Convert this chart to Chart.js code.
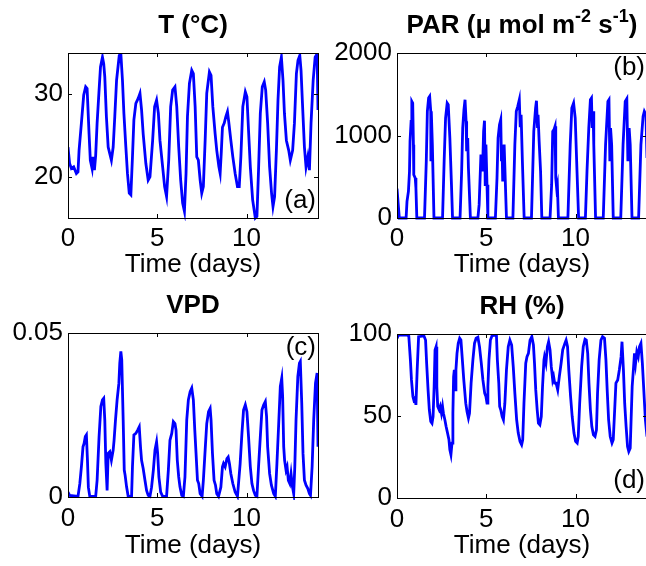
<!DOCTYPE html>
<html>
<head>
<meta charset="utf-8">
<title>Greenhouse climate, 14 days</title>
<script src="https://cdn.jsdelivr.net/npm/chart.js@4.4.0/dist/chart.umd.min.js"></script>
<style>
html,body{margin:0;padding:0;background:#fff;width:646px;height:566px;overflow:hidden;position:relative}
canvas{position:absolute}
</style>
</head>
<body>
<canvas id="cT" width="323" height="283" style="left:0;top:0"></canvas>
<canvas id="cPAR" width="330" height="283" style="left:323px;top:0"></canvas>
<canvas id="cVPD" width="323" height="283" style="left:0;top:283px"></canvas>
<canvas id="cRH" width="330" height="283" style="left:323px;top:283px"></canvas>
<script>
// ticks shared by all panels
const dayTicks=[0,5,10];
const tempTicks=[20,30];
const parTicks=[0,1000,2000];
const vpdTicks=[0,0.05];
const rhTicks=[0,50,100];

// air temperature, deg C
const tempDays=[0,0.09,0.19,0.32,0.47,0.56,0.62,0.75,0.88,0.99,
  1.07,1.18,1.25,1.35,1.40,1.48,1.55,1.63,1.74,1.82,
  1.93,2.00,2.06,2.15,2.25,2.34,2.43,2.53,2.62,2.72,
  2.87,2.96,3.05,3.13,3.24,3.33,3.43,3.52,3.61,3.69,
  3.80,3.93,4.03,4.12,4.21,4.36,4.49,4.59,4.74,4.85,
  4.96,5.06,5.15,5.30,5.41,5.52,5.64,5.75,5.86,5.99,
  6.09,6.20,6.31,6.42,6.52,6.61,6.69,6.80,6.93,7.02,
  7.12,7.21,7.30,7.40,7.49,7.58,7.68,7.77,7.92,8.01,
  8.11,8.24,8.33,8.45,8.52,8.58,8.65,8.75,8.84,8.93,
  9.01,9.12,9.23,9.36,9.49,9.59,9.68,9.79,9.93,10.02,
  10.11,10.21,10.34,10.49,10.58,10.67,10.77,10.88,10.99,11.07,
  11.18,11.29,11.40,11.48,11.57,11.67,11.76,11.85,11.95,12.04,
  12.12,12.23,12.36,12.45,12.58,12.68,12.79,12.88,12.98,13.05,
  13.13,13.24,13.33,13.43,13.52,13.61,13.73,13.84,13.95,14.00];
const tempValues=[23.6,21.6,21.0,21.2,20.4,20.6,23.2,26.5,29.9,30.9,
  30.7,25.2,22.0,21.0,22.4,20.8,22.6,26.5,30.5,33.3,
  34.5,33.7,32.1,27.3,23.6,22.8,22.0,23.6,27.3,31.7,
  34.7,34.9,31.7,27.7,23.6,20.4,18.0,17.8,22.4,26.9,
  28.9,29.5,30.1,28.1,25.2,21.6,19.6,20.0,24.4,28.5,
  29.3,27.7,24.4,21.2,18.8,17.6,22.0,28.5,30.5,30.9,
  28.5,23.6,19.6,16.8,15.8,20.4,27.3,31.3,32.9,32.5,
  28.5,22.4,22.0,19.6,18.0,18.8,24.4,30.1,32.7,32.3,
  28.5,25.2,23.2,21.2,20.4,22.8,26.0,26.5,27.3,27.9,
  26.5,24.4,22.4,20.4,18.8,18.8,22.4,28.5,30.3,29.7,
  25.6,21.2,17.2,15.0,15.2,20.8,27.7,30.9,31.5,30.5,
  26.5,21.2,18.0,16.4,17.6,23.2,29.3,33.3,34.5,31.7,
  27.7,24.4,23.2,22.0,23.2,26.5,32.5,34.1,34.7,32.9,
  28.9,23.6,21.2,22.4,20.8,26.5,31.7,34.5,34.9,28.1];

// photosynthetically active radiation
const parDays=[0,0.13,0.51,0.56,0.64,0.70,0.73,0.79,0.83,0.88,0.92,0.94,1.02,1.06,1.11,
  1.54,1.64,1.70,1.77,1.83,1.89,1.90,1.92,1.98,2.07,
  2.55,2.64,2.72,2.81,2.87,2.96,3.05,3.11,
  3.53,3.62,3.68,3.75,3.81,3.87,3.90,3.96,4.00,4.11,
  4.53,4.60,4.70,4.79,4.85,4.90,4.94,4.98,5.04,5.09,
  5.51,5.60,5.66,5.74,5.81,5.85,5.88,5.92,6.00,6.13,
  6.49,6.60,6.68,6.76,6.85,6.90,6.95,7.02,7.12,
  7.53,7.66,7.76,7.81,7.87,7.90,7.96,8.04,8.11,
  8.57,8.66,8.72,8.79,8.85,8.89,8.94,8.98,9.04,
  9.57,9.70,9.79,9.89,9.98,10.08,10.17,
  10.55,10.64,10.74,10.83,10.89,10.93,10.98,11.02,11.12,
  11.55,11.68,11.81,11.87,11.92,11.96,12.02,12.11,
  12.53,12.66,12.78,12.87,12.93,13.00,13.06,13.16,
  13.53,13.66,13.78,13.85,13.94,14.00];
const parValues=[355,0,0,202,323,566,929,1172,1414,1394,889,525,485,364,0,
  0,687,1293,1454,1475,1293,687,1293,889,0,
  0,687,1212,1394,1374,970,404,0,
  0,566,1091,1313,1434,1172,808,970,606,0,
  0,162,768,566,1050,1180,404,889,404,0,
  0,485,970,1131,1192,687,889,444,889,0,
  0,889,1293,1350,1434,1100,1250,700,0,
  0,1050,1333,1422,1091,1252,929,566,0,
  0,404,1050,1071,1111,485,364,404,0,
  0,889,1333,1394,1212,566,0,
  0,566,1091,1434,1454,1091,1293,889,0,
  0,889,1414,1434,687,1091,889,0,
  0,889,1414,1446,687,1091,889,0,
  0,889,1232,1293,1252,727];

// vapour pressure deficit
const vpdDays=[0,0.09,0.56,0.66,0.75,0.84,0.90,0.97,1.03,1.09,
  1.14,1.22,1.55,1.63,1.74,1.84,1.93,2.00,2.06,2.12,
  2.19,2.25,2.34,2.43,2.53,2.58,2.66,2.75,2.85,2.90,
  2.96,3.01,3.09,3.15,3.20,3.28,3.37,3.56,3.61,3.69,
  3.80,3.90,3.99,4.06,4.12,4.21,4.31,4.40,4.49,4.59,
  4.68,4.78,4.87,4.96,5.02,5.09,5.19,5.30,5.52,5.62,
  5.71,5.81,5.90,5.99,6.05,6.12,6.20,6.27,6.37,6.46,
  6.55,6.65,6.74,6.84,6.93,7.02,7.10,7.17,7.25,7.32,
  7.40,7.51,7.58,7.68,7.77,7.87,7.96,8.01,8.09,8.18,
  8.26,8.33,8.43,8.56,8.65,8.71,8.80,8.90,8.97,9.04,
  9.12,9.23,9.36,9.49,9.64,9.74,9.83,9.93,10.02,10.11,
  10.21,10.30,10.39,10.49,10.58,10.67,10.77,10.86,10.96,11.05,
  11.12,11.18,11.29,11.39,11.52,11.61,11.70,11.80,11.89,11.97,
  12.02,12.08,12.13,12.21,12.27,12.34,12.42,12.49,12.57,12.64,
  12.70,12.77,12.87,12.96,13.01,13.09,13.16,13.24,13.33,13.43,
  13.52,13.58,13.67,13.76,13.86,13.95,14.00];
const vpdValues=[0.0015,0.0005,0.0002,0.004,0.0092,0.0153,0.0163,0.0184,0.0189,0.0112,
  0.003,0.0002,0.0002,0.0051,0.0184,0.0276,0.0296,0.0301,0.0235,0.0102,
  0.002,0.0133,0.0138,0.0112,0.0143,0.0173,0.0235,0.0296,0.0347,0.0408,
  0.0444,0.0418,0.0235,0.0082,0.0066,0.0031,0.0002,0.0002,0.0092,0.0189,
  0.0194,0.0204,0.0214,0.0153,0.0112,0.0087,0.0051,0.002,0.0005,0.0002,
  0.003,0.0082,0.0143,0.0168,0.0133,0.0061,0.0015,0.0002,0.0002,0.0082,
  0.0173,0.0194,0.0230,0.0224,0.0204,0.0112,0.0061,0.0031,0.0005,0.0002,
  0.0061,0.0235,0.0296,0.0321,0.0332,0.0296,0.0204,0.0133,0.0051,0.0041,
  0.001,0.0002,0.0051,0.0143,0.0224,0.0260,0.0270,0.0235,0.0133,0.0051,
  0.0036,0.001,0.0002,0.003,0.0092,0.0102,0.0092,0.0117,0.0122,0.0102,
  0.0071,0.0041,0.0015,0.0002,0.0102,0.0194,0.0265,0.0281,0.0260,0.0184,
  0.0092,0.0041,0.002,0.0005,0.0002,0.0092,0.0184,0.0265,0.0281,0.0291,
  0.0245,0.0153,0.0071,0.0036,0.001,0.0002,0.0102,0.0224,0.0337,0.0362,
  0.0306,0.0153,0.0112,0.0082,0.0092,0.0051,0.0041,0.0071,0.0031,0.001,
  0.0092,0.0235,0.0367,0.0408,0.0413,0.0286,0.0133,0.0051,0.0036,0.0026,
  0.001,0.0005,0.0092,0.0235,0.0347,0.0378,0.0153];

// relative humidity, %
const rhDays=[0,0.09,0.57,0.66,0.75,0.81,0.89,0.94,1.00,1.06,
  1.13,1.21,1.51,1.60,1.66,1.74,1.81,1.89,1.96,2.02,
  2.08,2.13,2.19,2.23,2.28,2.36,2.42,2.49,2.55,2.60,
  2.68,2.75,2.83,2.91,2.96,3.02,3.08,3.13,3.17,3.21,
  3.26,3.30,3.36,3.43,3.51,3.58,3.66,3.74,3.85,3.92,
  4.00,4.06,4.15,4.25,4.34,4.43,4.53,4.62,4.72,4.81,
  4.91,4.98,5.04,5.09,5.15,5.23,5.32,5.47,5.57,5.62,
  5.70,5.75,5.81,5.89,5.96,6.04,6.13,6.23,6.32,6.42,
  6.51,6.60,6.70,6.79,6.89,6.98,7.04,7.11,7.21,7.28,
  7.36,7.45,7.55,7.64,7.70,7.77,7.85,7.92,8.00,8.08,
  8.15,8.23,8.26,8.34,8.42,8.49,8.57,8.64,8.72,8.77,
  8.83,8.91,9.00,9.09,9.19,9.28,9.40,9.47,9.55,9.62,
  9.72,9.81,9.91,10.00,10.09,10.15,10.23,10.34,10.43,10.53,
  10.60,10.68,10.75,10.83,10.91,11.00,11.09,11.17,11.23,11.32,
  11.42,11.51,11.62,11.70,11.77,11.85,11.94,12.04,12.11,12.19,
  12.26,12.36,12.45,12.55,12.60,12.68,12.75,12.83,12.91,12.98,
  13.06,13.11,13.17,13.25,13.30,13.36,13.43,13.51,13.58,13.66,
  13.74,13.81,13.91,14.00];
const rhValues=[97.4,99.4,99.4,98.8,84.2,72.0,61.9,59.8,60.9,56.8,
  78.1,98.4,98.8,96.3,82.2,65.9,53.8,46.7,45.6,49.7,
  68.0,90.3,92.3,68.0,55.8,53.8,55.8,51.7,55.8,51.7,
  47.7,43.6,39.6,35.5,29.4,26.4,33.5,51.7,74.0,78.1,
  65.9,78.1,88.2,94.3,97.4,96.3,84.2,72.0,57.8,52.7,
  48.7,51.7,70.0,84.2,94.3,97.4,98.0,92.3,82.2,72.0,
  63.9,61.9,57.8,68.0,84.2,96.3,98.8,99.4,98.8,84.2,
  70.0,55.8,53.8,49.7,47.7,57.8,78.1,92.3,96.3,93.3,
  80.1,63.9,47.7,39.6,34.5,32.5,35.5,57.8,82.2,86.2,
  88.2,96.3,98.4,93.3,82.2,65.9,53.8,45.6,44.6,49.7,
  68.0,84.2,86.2,82.2,92.3,95.3,90.3,80.1,72.0,74.0,
  70.0,70.0,65.9,74.0,82.2,90.3,94.3,96.3,92.3,78.1,
  61.9,49.7,39.6,34.5,33.5,37.5,57.8,80.1,92.3,96.8,
  96.3,88.2,70.0,53.8,43.6,38.5,37.5,41.6,63.9,84.2,
  96.3,98.4,97.4,84.2,65.9,47.7,37.5,33.5,35.5,53.8,
  70.0,72.0,78.1,86.2,95.3,78.1,57.8,43.6,31.4,28.4,
  30.4,47.7,68.0,80.1,88.2,82.2,89.2,86.2,92.3,94.3,
  82.2,68.0,47.7,37.5];

(function(){
  const BLUE='#0000ff', INK='#000';
  const FAM='"Liberation Sans", Arial, Helvetica, sans-serif';
  Chart.defaults.font.family=FAM; Chart.defaults.font.size=26; Chart.defaults.color=INK;

  // boxed axes with inward ticks on all four sides, bold title (with superscripts) and panel letter
  const boxAxes={
    id:'boxAxes',
    afterDatasetsDraw(chart,args,o){
      const {ctx,chartArea:{left,top,right,bottom},scales:{x,y}}=chart;
      ctx.save();
      ctx.strokeStyle=INK; ctx.lineWidth=1;
      ctx.strokeRect(left+0.5,top+0.5,right-left,bottom-top);
      ctx.beginPath();
      x.ticks.forEach(t=>{const p=Math.round(x.getPixelForValue(t.value))+0.5; ctx.moveTo(p,bottom);ctx.lineTo(p,bottom-4);ctx.moveTo(p,top);ctx.lineTo(p,top+4);});
      y.ticks.forEach(t=>{const p=Math.round(y.getPixelForValue(t.value))+0.5; ctx.moveTo(left,p);ctx.lineTo(left+4,p);ctx.moveTo(right,p);ctx.lineTo(right-4,p);});
      ctx.stroke();
      ctx.fillStyle=INK; ctx.textBaseline='alphabetic';
      ctx.font='26px '+FAM; ctx.textAlign='right';
      ctx.fillText(o.tag,right-2,o.tagTop?top+22:bottom-10);
      // title pieces: [text, superscript?]
      const big='bold 26px '+FAM, small='bold 18px '+FAM;
      let w=0; o.title.forEach(([s,sup])=>{ctx.font=sup?small:big; w+=ctx.measureText(s).width;});
      let cx=(left+right)/2-w/2; ctx.textAlign='left';
      o.title.forEach(([s,sup])=>{ctx.font=sup?small:big; ctx.fillText(s,cx,top-20-(sup?11:0)); cx+=ctx.measureText(s).width;});
      ctx.restore();
    }
  };

  function panel(id,days,values,yMin,yMax,yTicks,o){
    const pts=days.map((d,i)=>({x:d,y:values[i]}));
    return new Chart(document.getElementById(id),{
      type:'line',
      data:{datasets:[{data:pts,borderColor:BLUE,borderWidth:2.8,pointRadius:0,tension:0,fill:false,clip:{left:0,top:0,right:0,bottom:3}}]},
      options:{responsive:false,animation:false,events:[],
        layout:{padding:{top:o.padTop,right:o.padRight,left:0,bottom:0}},
        plugins:{legend:{display:false},tooltip:{enabled:false},boxAxes:o},
        scales:{
          x:{type:'linear',min:0,max:14,grid:{display:false,drawTicks:false},border:{display:false},
             afterBuildTicks:s=>{s.ticks=dayTicks.map(v=>({value:v}));},
             afterFit:s=>{s.height=o.xH;},
             ticks:{padding:o.xPad,maxRotation:0,autoSkip:false,callback:v=>String(v)},
             title:{display:true,text:'Time (days)',padding:{top:0,bottom:o.titlePad}}},
          y:{type:'linear',min:yMin,max:yMax,grid:{display:false,drawTicks:false},border:{display:false},
             afterBuildTicks:s=>{s.ticks=yTicks.map(v=>({value:v}));},
             afterFit:s=>{s.width=o.yW;},
             ticks:{padding:5,autoSkip:false,callback:v=>String(v)}}
        }},
      plugins:[boxAxes]
    });
  }

  panel('cT',tempDays,tempValues,15,35,tempTicks,
    {padTop:53,padRight:5,yW:68,xH:65,xPad:5,titlePad:3,tag:'(a)',tagTop:false,title:[['T (°C)']]});
  panel('cPAR',parDays,parValues,0,2000,parTicks,
    {padTop:53,padRight:6,yW:74,xH:65,xPad:5,titlePad:3,tag:'(b)',tagTop:true,
     title:[['PAR (μ mol m'],['-2',true],[' s'],['-1',true],[')']]});
  panel('cVPD',vpdDays,vpdValues,0,0.05,vpdTicks,
    {padTop:50,padRight:5,yW:68,xH:69,xPad:6,titlePad:5,tag:'(c)',tagTop:true,title:[['VPD']]});
  panel('cRH',rhDays,rhValues,0,100,rhTicks,
    {padTop:51,padRight:6,yW:74,xH:68,xPad:6,titlePad:5,tag:'(d)',tagTop:false,title:[['RH (%)']]});
})();
</script>
</body>
</html>
